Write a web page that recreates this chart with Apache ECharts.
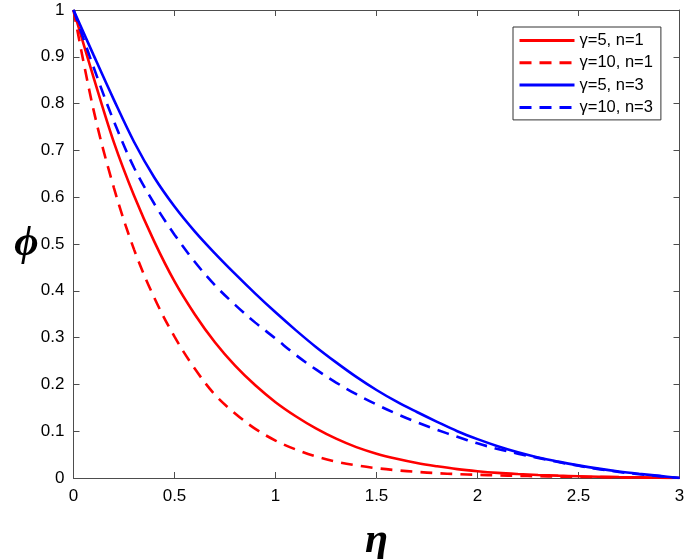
<!DOCTYPE html>
<html>
<head>
<meta charset="utf-8">
<script src="https://cdn.jsdelivr.net/npm/echarts@6/dist/echarts.min.js"></script>
<style>html,body{margin:0;padding:0;background:#fff}#c{width:685px;height:559px}</style>
</head>
<body>
<div id="c"></div>
<script>
const eta = [0,0.1,0.2,0.3,0.4,0.5,0.6,0.7,0.8,0.9,1.0,1.1,1.2,1.3,1.4,1.5,1.6,1.7,1.8,1.9,2.0,2.1,2.2,2.3,2.4,2.5,2.6,2.7,2.8,2.9,3.0];
const phi_g5_n1  = [1,0.855,0.717,0.603,0.505,0.420,0.350,0.290,0.240,0.198,0.162,0.132,0.106,0.084,0.066,0.052,0.041,0.032,0.025,0.019,0.0145,0.011,0.0085,0.0065,0.005,0.0038,0.0028,0.002,0.0013,0.0006,0];
const phi_g10_n1 = [1,0.785,0.620,0.488,0.385,0.302,0.234,0.178,0.138,0.105,0.080,0.061,0.046,0.035,0.027,0.021,0.0165,0.013,0.0103,0.0083,0.0068,0.0056,0.0046,0.0038,0.0031,0.0025,0.0019,0.0014,0.0009,0.0004,0];
const phi_g5_n3  = [1,0.903,0.808,0.718,0.642,0.580,0.527,0.480,0.436,0.394,0.354,0.316,0.280,0.247,0.216,0.188,0.163,0.141,0.120,0.100,0.083,0.068,0.055,0.044,0.035,0.027,0.020,0.014,0.009,0.0045,0];
const phi_g10_n3 = [1,0.877,0.762,0.663,0.586,0.520,0.462,0.412,0.370,0.332,0.298,0.263,0.232,0.204,0.179,0.157,0.137,0.119,0.103,0.088,0.074,0.062,0.052,0.043,0.034,0.026,0.019,0.013,0.008,0.004,0];
const seriesNames = ['\u03b3=5, n=1','\u03b3=10, n=1','\u03b3=5, n=3','\u03b3=10, n=3'];
const xTicks = [0,0.5,1,1.5,2,2.5,3];
const yTicks = [0,0.1,0.2,0.3,0.4,0.5,0.6,0.7,0.8,0.9,1];

const pair = arr => eta.map((x,i)=>[x,arr[i]]);
const styles = [
  {color:'#ff0000', type:'solid'},
  {color:'#ff0000', type:[12,8]},
  {color:'#0000ff', type:'solid'},
  {color:'#0000ff', type:[12,8]}
];
const datas = [phi_g5_n1, phi_g10_n1, phi_g5_n3, phi_g10_n3];

const axisCol = '#4d4d4d';
const labelFont = {color:'#000', fontSize:17, fontFamily:'Liberation Sans, Arial, sans-serif'};
const nameFont = {fontSize:42, fontStyle:'italic', fontWeight:'bold', fontFamily:'Liberation Serif, Times New Roman, serif', color:'#000'};
const chart = echarts.init(document.getElementById('c'), null, {renderer:'canvas'});
chart.setOption({
  animation:false,
  backgroundColor:'#fff',
  grid:{left:73.5, right:5.5, top:10, bottom:81, containLabel:false, outerBoundsMode:'none'},
  legend:{
    orient:'vertical', left:513, top:27,
    padding:[5,8,4,5],
    itemWidth:55, itemHeight:14, itemGap:5.3,
    borderColor:'#333', borderWidth:1, backgroundColor:'#fff',
    itemStyle:{opacity:0},
    lineStyle:{width:3},
    textStyle:{fontSize:16.5, color:'#000', fontFamily:'Liberation Sans, Arial, sans-serif'},
    data:seriesNames
  },
  xAxis:[{
    type:'value', min:xTicks[0], max:xTicks[xTicks.length-1], interval:0.5,
    name:'\u03b7', nameLocation:'middle', nameGap:42,
    nameTextStyle:nameFont,
    axisLine:{onZero:false, lineStyle:{color:axisCol, width:1}},
    axisTick:{inside:true, length:6, lineStyle:{color:axisCol}},
    axisLabel:Object.assign({margin:10}, labelFont),
    splitLine:{show:false}
  },{
    type:'value', position:'top', min:0, max:3, interval:0.5,
    axisLine:{show:true, onZero:false, lineStyle:{color:axisCol, width:1}},
    axisTick:{show:true, inside:true, length:6, lineStyle:{color:axisCol}},
    axisLabel:{show:false}, splitLine:{show:false}
  }],
  yAxis:[{
    type:'value', min:yTicks[0], max:yTicks[yTicks.length-1], interval:0.1,
    name:'\u03d5', nameLocation:'middle', nameGap:47, nameRotate:0, nameMoveOverlap:false,
    nameTextStyle:Object.assign({align:'center', verticalAlign:'middle'}, nameFont),
    axisLine:{show:true, onZero:false, lineStyle:{color:axisCol, width:1}},
    axisTick:{show:true, inside:true, length:6, lineStyle:{color:axisCol}},
    axisLabel:Object.assign({margin:9}, labelFont),
    splitLine:{show:false}
  },{
    type:'value', position:'right', min:0, max:1, interval:0.1,
    axisLine:{show:true, onZero:false, lineStyle:{color:axisCol, width:1}},
    axisTick:{show:true, inside:true, length:6, lineStyle:{color:axisCol}},
    axisLabel:{show:false}, splitLine:{show:false}
  }],
  series:datas.map((d,i)=>({
    name:seriesNames[i], type:'line', xAxisIndex:0, yAxisIndex:0,
    data:pair(d), smooth:0.35, showSymbol:false, symbol:'none',
    lineStyle:{color:styles[i].color, width:2.6, type:styles[i].type},
    itemStyle:{color:styles[i].color}
  }))
});
</script>
</body>
</html>
